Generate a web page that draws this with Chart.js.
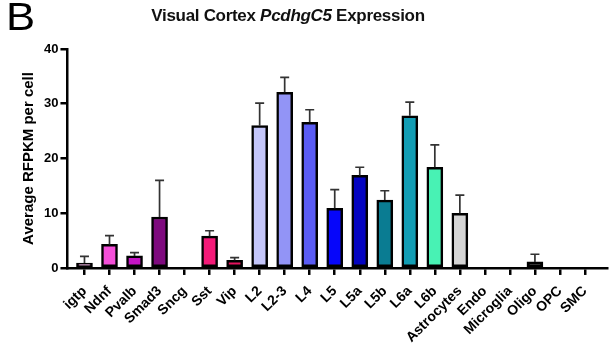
<!DOCTYPE html>
<html>
<head>
<meta charset="utf-8">
<script src="https://cdn.jsdelivr.net/npm/chart.js@4"></script>
<style>
  body { margin: 0; background: #fff; }
  #wrap { position: relative; width: 610px; height: 354px; }
  #panel { position: absolute; left: 6px; top: -5px; font: 39px "Liberation Sans", Arial, sans-serif; color: #000;
           transform: scaleX(1.12); transform-origin: left top; }
  #title { position: absolute; left: 0; width: 576px; top: 6px; text-align: center;
           font: bold 17px "Liberation Sans", Arial, sans-serif; color: #111; letter-spacing: -0.3px; }
  canvas { position: absolute; left: 0; top: 0; }
</style>
</head>
<body>
<div id="wrap">
  <canvas id="chart" width="610" height="354"></canvas>
  <div id="panel">B</div>
  <div id="title">Visual Cortex <i>PcdhgC5</i> Expression</div>
</div>
<script>
const cellTypes = ['igtp', 'Ndnf', 'Pvalb', 'Smad3', 'Sncg', 'Sst', 'Vip', 'L2', 'L2-3', 'L4', 'L5',
  'L5a', 'L5b', 'L6a', 'L6b', 'Astrocytes', 'Endo', 'Microglia', 'Oligo', 'OPC', 'SMC'];
const meanRfpkm = [0.9, 4.3, 2.2, 9.3, 0, 5.8, 1.4, 26.0, 32.1, 26.6, 10.9,
  16.9, 12.4, 27.8, 18.4, 10.0, 0, 0, 1.1, 0, 0];
const errTop = [2.1, 5.9, 2.8, 16.0, 0, 6.8, 1.9, 30.1, 34.8, 28.9, 14.3,
  18.4, 14.1, 30.3, 22.5, 13.3, 0, 0, 2.5, 0, 0];
const barColors = ['#b86aa6', '#f44fd8', '#c414c4', '#7e0a7e', '#ffffff', '#f41a78', '#e4125e', '#c4c6fa', '#9294f6', '#5a5cf4', '#0606fa',
  '#0404c0', '#0a7c92', '#129db4', '#48f2b4', '#d4d4d4', '#ffffff', '#ffffff', '#060606', '#ffffff', '#ffffff'];
const yTicks = [0, 10, 20, 30, 40];

const font = { family: '"Liberation Sans", Arial, sans-serif', weight: 'bold' };

// error bars (upper only), drawn from the bar top to mean + SEM
const errorBars = {
  id: 'errorBars',
  afterDatasetsDraw(chart) {
    const { ctx, scales: { x, y } } = chart;
    ctx.save();
    ctx.strokeStyle = '#333';
    ctx.lineWidth = 1.7;
    errTop.forEach((e, i) => {
      if (e <= meanRfpkm[i]) return;
      const px = x.getPixelForValue(i);
      const y0 = y.getPixelForValue(meanRfpkm[i]);
      const y1 = y.getPixelForValue(e);
      ctx.beginPath();
      ctx.moveTo(px, y0); ctx.lineTo(px, y1);
      ctx.moveTo(px - 4.5, y1); ctx.lineTo(px + 4.5, y1);
      ctx.stroke();
    });
    ctx.restore();
  }
};

new Chart(document.getElementById('chart'), {
  type: 'bar',
  data: {
    datasets: [{
      data: meanRfpkm.map((v, i) => ({ x: i, y: v })),
      backgroundColor: barColors,
      borderColor: '#000',
      borderWidth: 2.5,
      borderSkipped: false,
      barThickness: 16
    }]
  },
  options: {
    responsive: false,
    animation: false,
    layout: { padding: { top: 49, right: 3, left: 16, bottom: 0 } },
    plugins: { legend: { display: false }, tooltip: { enabled: false } },
    scales: {
      x: {
        type: 'linear',
        offset: false,
        min: -0.68,
        max: 20.88,
        afterBuildTicks: s => { s.ticks = cellTypes.map((_, i) => ({ value: i })); },
        ticks: {
          autoSkip: false,
          maxRotation: 45,
          minRotation: 45,
          color: '#000',
          padding: 8,
          font: { ...font, size: 14 },
          callback: v => cellTypes[v]
        },
        grid: { display: true, offset: false, drawOnChartArea: false, drawTicks: true, tickLength: 7, color: '#000', lineWidth: 2.5 },
        border: { display: true, color: '#000', width: 2.5 }
      },
      y: {
        min: 0,
        max: 40,
        afterBuildTicks: s => { s.ticks = yTicks.map(v => ({ value: v })); },
        ticks: { color: '#000', padding: 2, font: { ...font, size: 13 } },
        grid: { display: true, drawOnChartArea: false, drawTicks: true, tickLength: 7, color: '#000', lineWidth: 2.5 },
        border: { display: true, color: '#000', width: 2.5 },
        title: { display: true, text: 'Average RFPKM per cell', color: '#000', padding: 4, font: { ...font, size: 15 } }
      }
    }
  },
  plugins: [errorBars]
});
</script>
</body>
</html>
